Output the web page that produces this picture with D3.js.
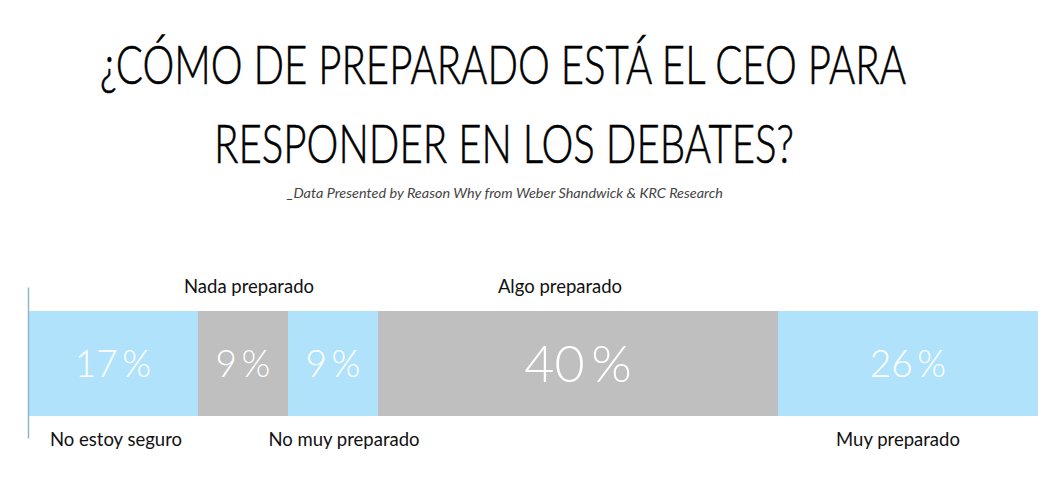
<!DOCTYPE html>
<html><head><meta charset="utf-8">
<script src="https://cdn.jsdelivr.net/npm/d3@7"></script>
<style>html,body{margin:0;padding:0;background:#fff;}</style>
</head><body><svg id="c" width="1063" height="488"></svg>
<script>
const titleLines = ["¿CÓMO DE PREPARADO ESTÁ EL CEO PARA", "RESPONDER EN LOS DEBATES?"];
const subtitle = "_Data Presented by Reason Why from Weber Shandwick & KRC Research";
const categories = ["No estoy seguro", "Nada preparado", "No muy preparado", "Algo preparado", "Muy preparado"];
const values = [17, 9, 9, 40, 26];
const labelSide = ["bottom", "top", "bottom", "top", "bottom"];
const colors = ["#b0e3fb", "#bfbfbf", "#b0e3fb", "#bfbfbf", "#b0e3fb"];

const svg = d3.select("#c");
const total = d3.sum(values);
const x = d3.scaleLinear().domain([0, total]).range([28, 1038]);
const y = d3.scaleBand().domain(["CEO"]).range([311, 416]).padding(0);

// title
const tl = [{t: titleLines[0], y: 84, w: 806, x: 503}, {t: titleLines[1], y: 163, w: 580, x: 504}];
svg.selectAll("text.title").data(tl).enter().append("text")
  .attr("class", "title")
  .attr("x", d => d.x).attr("y", d => d.y)
  .attr("text-anchor", "middle")
  .attr("font-family", "Lato, 'Open Sans', sans-serif")
  .attr("font-weight", 300)
  .attr("font-size", 54)
  .attr("fill", "#000")
  .attr("stroke", "#000")
  .attr("stroke-width", 0.6)
  .attr("textLength", d => d.w)
  .attr("lengthAdjust", "spacingAndGlyphs")
  .text(d => d.t);

svg.append("text")
  .attr("x", 505).attr("y", 198)
  .attr("text-anchor", "middle")
  .attr("font-family", "Lato, 'Open Sans', sans-serif")
  .attr("font-style", "italic")
  .attr("font-weight", 400)
  .attr("font-size", 13.5)
  .attr("fill", "#444")
  .attr("textLength", 436)
  .attr("lengthAdjust", "spacingAndGlyphs")
  .text(subtitle);

// stacked data
let acc = 0;
const segs = values.map((v, i) => { const s = {cat: categories[i], v, x0: acc, x1: acc + v, side: labelSide[i], color: colors[i], i}; acc += v; return s; });

svg.selectAll("rect.seg").data(segs).enter().append("rect")
  .attr("class", "seg")
  .attr("x", d => x(d.x0))
  .attr("width", d => x(d.x1) - x(d.x0))
  .attr("y", y("CEO"))
  .attr("height", y.bandwidth())
  .attr("fill", d => d.color);

svg.selectAll("text.val").data(segs).enter().append("text")
  .attr("class", "val")
  .attr("x", d => (x(d.x0) + x(d.x1)) / 2)
  .attr("y", d => y("CEO") + y.bandwidth() / 2)
  .attr("dy", "0.36em")
  .attr("text-anchor", "middle")
  .attr("font-family", "Lato, sans-serif")
  .attr("font-weight", 300)
  .attr("font-size", d => d.v >= 40 ? 52 : 37)
  .attr("fill", "#fff")
  .text(d => d.v + "\u2009%");

// small horizontal nudges of the category labels, as in the reference layout
const labelNudge = [3, 6, 11, -18, -10];
svg.selectAll("text.cat").data(segs).enter().append("text")
  .attr("class", "cat")
  .attr("x", d => (x(d.x0) + x(d.x1)) / 2 + labelNudge[d.i])
  .attr("y", d => d.side === "top" ? 293 : 446)
  .attr("text-anchor", "middle")
  .attr("font-family", "Lato, 'Open Sans', sans-serif")
  .attr("font-size", 18.5)
  .attr("fill", "#111")
  .text(d => d.cat);

// left axis
const yAxisScale = d3.scaleLinear().domain([0, 1]).range([438, 287]);
const axisG = svg.append("g").attr("transform", "translate(28,0)")
  .call(d3.axisLeft(yAxisScale).ticks(0).tickSize(0).tickFormat(""));
axisG.select(".domain").attr("stroke", "#8fb4cc").attr("stroke-width", 1.5);
</script></body></html>
